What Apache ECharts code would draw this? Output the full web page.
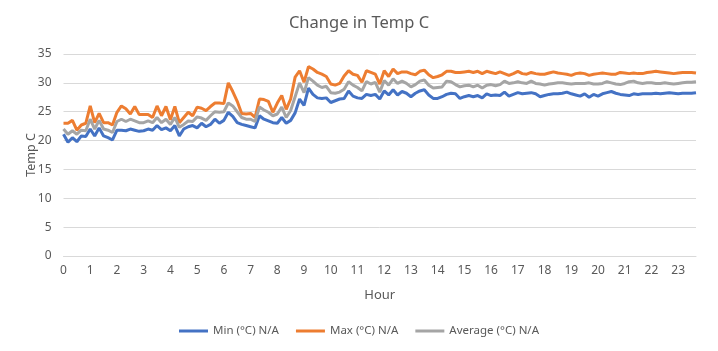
<!DOCTYPE html>
<html>
<head>
<meta charset="utf-8">
<script src="https://cdn.jsdelivr.net/npm/echarts@6/dist/echarts.min.js"></script>
<style>html,body{margin:0;padding:0;background:#fff;}#c{width:718px;height:351px;}</style>
</head>
<body>
<div id="c"></div>
<script>
// Tick labels shown every hour (6 readings per hour, 10-minute steps)
const hourLabels = ['0','1','2','3','4','5','6','7','8','9','10','11','12','13','14','15','16','17','18','19','20','21','22','23'];

const minTemp = [
21.1,19.7,20.5,19.8,20.8,20.7,22.0,20.8,22.2,20.8,20.5,20.1,
21.8,21.8,21.7,22.0,21.8,21.6,21.7,22.0,21.8,22.6,21.9,22.2,
21.7,22.6,20.8,22.0,22.4,22.6,22.2,23.0,22.4,22.8,23.7,23.0,
23.5,24.9,24.2,23.1,22.8,22.6,22.4,22.2,24.3,23.7,23.4,23.1,
23.0,24.0,23.0,23.5,24.8,27.2,26.1,29.1,28.0,27.4,27.3,27.4,
26.6,26.9,27.2,27.3,28.6,27.7,27.4,27.3,28.0,27.8,28.0,27.2,
28.6,27.9,28.8,27.9,28.5,28.2,27.6,28.2,28.6,28.8,27.9,27.3,
27.3,27.6,28.0,28.2,28.1,27.3,27.6,27.8,27.6,27.8,27.4,28.1,
27.8,27.9,27.8,28.4,27.7,28.0,28.3,28.1,28.2,28.3,28.1,27.6,
27.8,28.0,28.1,28.1,28.2,28.4,28.1,27.9,27.7,28.1,27.5,28.0,
27.7,28.1,28.3,28.5,28.2,28.0,27.9,27.8,28.1,28.0,28.1,28.1,
28.1,28.2,28.1,28.2,28.3,28.2,28.1,28.2,28.2,28.2,28.3
];

const maxTemp = [
23.0,23.0,23.5,21.8,22.7,23.0,26.0,23.1,24.7,23.1,23.1,22.7,
24.9,26.0,25.5,24.6,25.9,24.5,24.5,24.5,24.0,26.0,24.3,25.9,
23.6,25.9,23.1,24.0,24.9,24.3,25.8,25.6,25.2,25.9,26.5,26.5,
26.4,30.0,28.5,26.8,24.7,24.6,24.7,24.0,27.2,27.1,26.8,24.9,
26.5,27.8,25.4,27.2,31.0,32.1,30.1,32.8,32.4,31.8,31.5,31.1,
29.8,29.6,29.9,31.2,32.1,31.5,31.3,30.1,32.1,31.8,31.5,29.8,
32.1,31.1,32.4,31.6,31.9,31.9,31.6,31.4,32.0,32.2,31.4,30.9,
31.1,31.4,32.0,32.0,31.8,31.8,31.9,32.0,31.8,32.0,31.6,32.0,
31.8,31.6,31.9,31.6,31.3,31.6,32.0,31.6,31.5,31.8,31.6,31.5,
31.5,31.7,31.9,31.7,31.6,31.5,31.3,31.6,31.7,31.6,31.3,31.5,
31.6,31.7,31.6,31.5,31.5,31.8,31.7,31.6,31.7,31.6,31.6,31.8,
31.9,32.0,31.9,31.8,31.7,31.6,31.7,31.8,31.8,31.8,31.7
];

const avgTemp = [
22.0,21.1,21.7,21.1,21.8,21.7,23.7,22.0,23.5,22.0,21.8,21.4,
23.3,23.7,23.3,23.7,23.4,23.1,23.1,23.4,23.1,24.0,23.1,23.7,
22.8,24.0,22.3,22.8,23.4,23.3,24.1,23.9,23.5,24.3,25.0,24.9,
25.0,26.5,26.0,25.0,24.0,23.7,23.7,23.3,25.8,25.3,24.9,24.3,
24.6,25.8,24.0,25.2,27.6,30.0,28.3,30.9,30.3,29.6,29.2,29.4,
28.3,28.2,28.4,28.9,30.2,29.6,29.2,28.6,30.2,29.8,30.1,28.4,
30.4,29.6,30.7,29.9,30.3,29.9,29.3,29.7,30.3,30.5,29.6,29.1,
29.2,29.3,30.3,30.2,29.7,29.3,29.5,29.6,29.3,29.6,29.1,29.6,
29.7,29.5,29.7,30.3,29.9,30.0,30.2,30.0,29.9,30.3,29.9,29.8,
29.6,29.8,29.9,30.0,30.0,29.9,29.8,29.9,29.9,29.9,30.0,29.8,
29.8,29.9,30.2,30.0,29.8,29.7,29.9,30.2,30.3,30.0,29.9,30.0,
30.0,29.9,29.9,30.0,29.9,29.8,29.9,30.0,30.1,30.1,30.2
];

const seriesNames = ['Min (°C) N/A', 'Max (°C) N/A', 'Average (°C) N/A'];
const seriesColors = ['#4472C4', '#ED7D31', '#A5A5A5'];

// category for each reading (10-minute steps)
const categories = minTemp.map((_, i) => Math.floor(i / 6) + ':' + String((i % 6) * 10).padStart(2, '0'));

const FONT = '"Noto Sans", "Open Sans", sans-serif';
const TXT = '#595959';

const chart = echarts.init(document.getElementById('c'), null, {renderer: 'canvas'});
chart.setOption({
  animation: false,
  backgroundColor: '#fff',
  textStyle: {fontFamily: FONT},
  title: {
    text: 'Change in Temp C',
    left: 'center',
    top: 10,
    textStyle: {fontFamily: FONT, fontSize: 16.5, fontWeight: 'normal', color: TXT}
  },
  legend: {
    data: seriesNames,
    bottom: 9,
    left: 'center',
    icon: 'rect',
    itemWidth: 29,
    itemHeight: 3,
    itemGap: 17,
    textStyle: {fontFamily: FONT, fontSize: 11.5, color: TXT}
  },
  grid: {left: 63.5, right: 22, top: 54, bottom: 95, containLabel: false},
  xAxis: {
    type: 'category',
    data: categories,
    boundaryGap: false,
    name: 'Hour',
    nameLocation: 'middle',
    nameGap: 33,
    nameMoveOverlap: false,
    nameTextStyle: {fontFamily: FONT, fontSize: 13, color: TXT},
    axisLine: {show: true, lineStyle: {color: '#d9d9d9', width: 1}},
    axisTick: {show: false},
    axisLabel: {
      interval: 5,
      margin: 9,
      fontFamily: FONT,
      fontSize: 12,
      color: TXT,
      formatter: (v, idx) => hourLabels[Math.round(idx / 6)]
    },
    splitLine: {show: false}
  },
  yAxis: {
    type: 'value',
    min: 0,
    max: 35,
    interval: 5,
    name: 'Temp C',
    nameLocation: 'middle',
    nameGap: 26,
    nameMoveOverlap: false,
    nameTextStyle: {fontFamily: FONT, fontSize: 12.5, color: TXT},
    axisLine: {show: false},
    axisTick: {show: false},
    axisLabel: {margin: 12, fontFamily: FONT, fontSize: 12, color: TXT},
    splitLine: {lineStyle: {color: '#d9d9d9', width: 1}}
  },
  series: [
    {name: seriesNames[0], type: 'line', data: minTemp, symbol: 'none', lineStyle: {width: 3, color: seriesColors[0]}, itemStyle: {color: seriesColors[0]}},
    {name: seriesNames[1], type: 'line', data: maxTemp, symbol: 'none', lineStyle: {width: 3, color: seriesColors[1]}, itemStyle: {color: seriesColors[1]}},
    {name: seriesNames[2], type: 'line', data: avgTemp, symbol: 'none', lineStyle: {width: 3, color: seriesColors[2]}, itemStyle: {color: seriesColors[2]}}
  ]
});
</script>
</body>
</html>
